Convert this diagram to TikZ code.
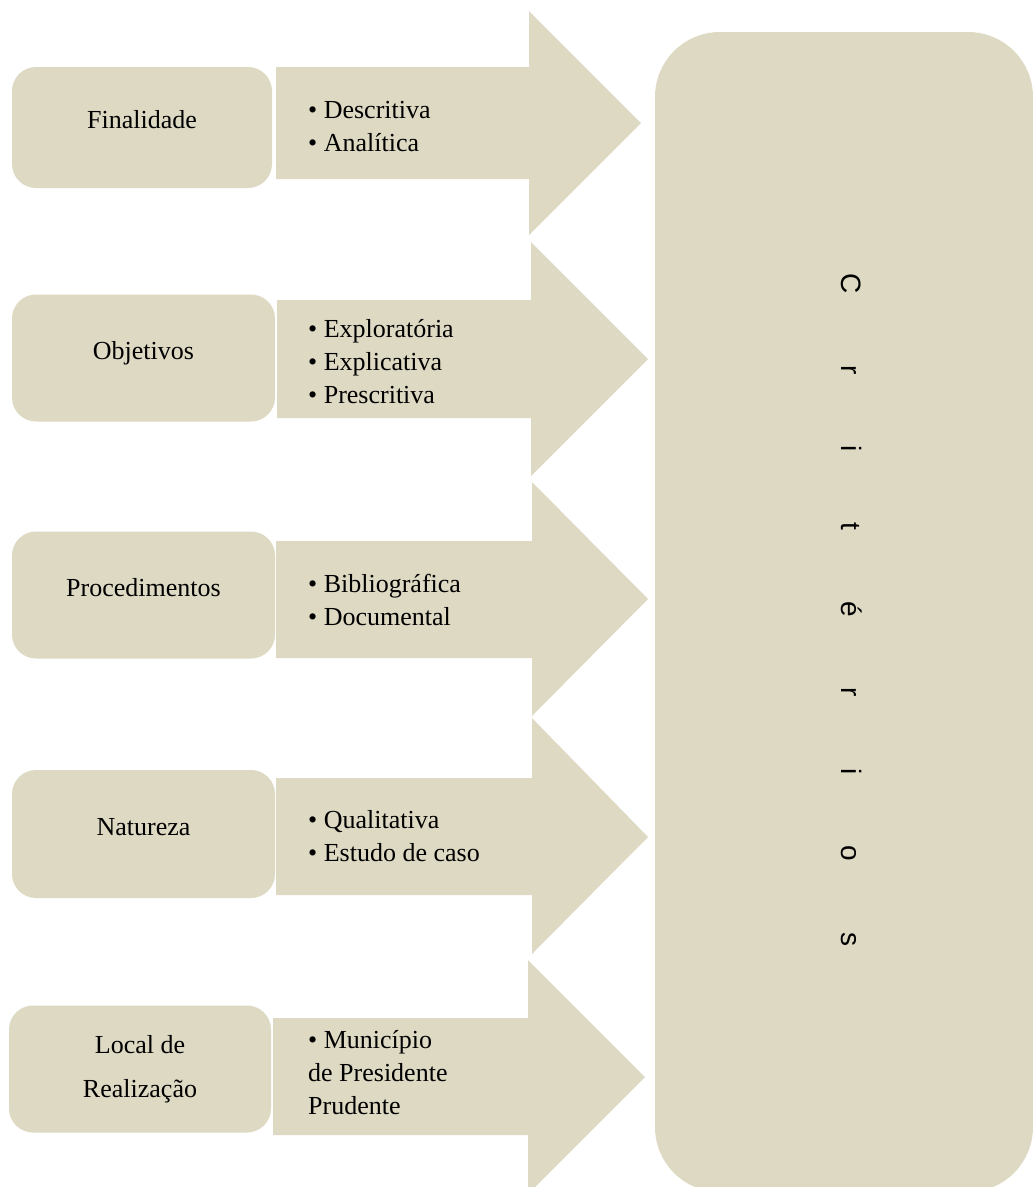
\documentclass[tikz,border=0pt]{standalone}
\usepackage{fontspec}
\setmainfont{Liberation Serif}
\newfontfamily\critfont{Liberation Sans}
\usepackage{tikz}
\usetikzlibrary{positioning}
\definecolor{TanBG}{HTML}{DDD9C3}

\begin{document}
\begin{tikzpicture}[x=1pt, y=-1pt,
  box/.style={fill=TanBG, rounded corners=24pt, minimum width=263pt,
              minimum height=127pt, inner sep=0pt, align=center,
              font=\fontsize{26}{32}\selectfont},
  cat/.style={box, text height=10pt, text depth=8pt},
  arw/.style={fill=TanBG},
  itm/.style={anchor=west, align=left, inner sep=0pt,
              font=\fontsize{26}{33}\selectfont}]
  \useasboundingbox (0,0) rectangle (1033,1187);
  % arrows
  \fill[arw] (276,67) -- (529,67) -- (529,11) -- (641,123) -- (529,235) -- (529,179) -- (276,179) -- cycle;
  \fill[arw] (277,300) -- (531,300) -- (531,242) -- (648,359) -- (531,476) -- (531,418) -- (277,418) -- cycle;
  \fill[arw] (276,541) -- (532,541) -- (532,482) -- (648,599) -- (532,716) -- (532,658) -- (276,658) -- cycle;
  \fill[arw] (276,778) -- (532,778) -- (532,718) -- (648,837) -- (532,954) -- (532,895) -- (276,895) -- cycle;
  \fill[arw] (273,1018) -- (528,1018) -- (528,960) -- (645,1077) -- (528,1194) -- (528,1135) -- (273,1135) -- cycle;
  % categories
  \node[cat, minimum width=260pt, minimum height=121pt] (fin) at (142,127.5) {Finalidade};
  \node[cat] (obj) at (143.5,358) {Objetivos};
  \node[cat] (proc) at (143.5,595) {Procedimentos};
  \node[cat, minimum height=128pt] (nat) at (143.5,834) {Natureza};
  \node[box, minimum width=262pt] (loc) at (140,1069) {Local de\\[12pt]Realização};
  % items
  \node[itm] (finI) at (308,127) {\textbullet\ Descritiva\\\textbullet\ Analítica};
  \node[itm] (objI) at (308,362) {\textbullet\ Exploratória\\\textbullet\ Explicativa\\\textbullet\ Prescritiva};
  \node[itm] (procI) at (308,600) {\textbullet\ Bibliográfica\\\textbullet\ Documental};
  \node[itm] (natI) at (308,836) {\textbullet\ Qualitativa\\\textbullet\ Estudo de caso};
  \node[itm] (locI) at (308,1073) {\textbullet\ Município\\de Presidente\\Prudente};
  % criterios
  \node[fill=TanBG, rounded corners=65pt, minimum width=378pt,
        minimum height=1160pt] (crit) at (844,612) {};
  \node[rotate=-90, font=\critfont\fontsize{28}{32}\selectfont]
    (critlbl) at (852,610) {\spaceskip=71pt\relax C r i t é r i o s};
\end{tikzpicture}
\end{document}
